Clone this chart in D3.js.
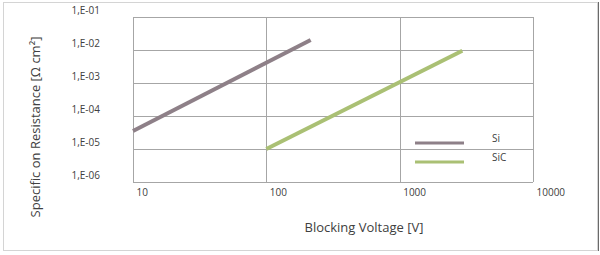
<!DOCTYPE html>
<html>
<head>
<meta charset="utf-8">
<script src="https://cdn.jsdelivr.net/npm/d3@7"></script>
<style>
  body { margin: 0; background: #fff; }
  svg text { font-family: "Open Sans", "DejaVu Sans", sans-serif; fill: #404040; }
</style>
</head>
<body>
<div id="chart"></div>
<script>
// series data (blocking voltage [V], specific on resistance [Ohm cm2])
var siVoltage = [10, 215];
var siResistance = [3.5e-5, 2.0e-2];
var sicVoltage = [100, 2950];
var sicResistance = [1.0e-5, 9.5e-3];

var seriesNames = ['Si', 'SiC'];
var seriesColors = ['#8e8088', '#aac074'];

var xTicks = [10, 100, 1000, 10000];
var xTickLabels = ['10', '100', '1000', '10000'];
var yTicks = [1e-6, 1e-5, 1e-4, 1e-3, 1e-2, 1e-1];
var yTickLabels = ['1,E-06', '1,E-05', '1,E-04', '1,E-03', '1,E-02', '1,E-01'];

var width = 600;
var height = 255;
var plot = { left: 133, right: 533, top: 17, bottom: 182 };

var svg = d3.select('#chart')
    .append('svg')
    .attr('width', width)
    .attr('height', height);

// outer frame
svg.append('rect')
    .attr('x', 3.5)
    .attr('y', 2.5)
    .attr('width', 594)
    .attr('height', 248)
    .attr('fill', '#fff')
    .attr('stroke', '#d4d4d4');
svg.append('line')
    .attr('x1', 598.5).attr('x2', 598.5)
    .attr('y1', 2).attr('y2', 251)
    .attr('stroke', '#6a6a6a');

var x = d3.scaleLog().domain([10, 10000]).range([plot.left, plot.right]);
var y = d3.scaleLog().domain([1e-6, 1e-1]).range([plot.bottom, plot.top]);

// gridlines
var grid = svg.append('g').attr('class', 'grid');
grid.selectAll('.hgrid')
    .data(yTicks)
    .enter()
    .append('line')
    .attr('x1', plot.left)
    .attr('x2', plot.right)
    .attr('y1', function(d) { return Math.round(y(d)) + 0.5; })
    .attr('y2', function(d) { return Math.round(y(d)) + 0.5; })
    .attr('stroke', '#a6a6a6');
grid.selectAll('.vgrid')
    .data(xTicks)
    .enter()
    .append('line')
    .attr('y1', plot.top)
    .attr('y2', plot.bottom)
    .attr('x1', function(d) { return Math.round(x(d)) + 0.5; })
    .attr('x2', function(d) { return Math.round(x(d)) + 0.5; })
    .attr('stroke', '#a6a6a6');

// axes (labels only)
var yAxis = svg.append('g')
    .attr('transform', 'translate(100,0)')
    .call(d3.axisLeft(y)
        .tickValues(yTicks)
        .tickSize(0)
        .tickPadding(0)
        .tickFormat(function(d, i) { return yTickLabels[i]; }));
yAxis.select('.domain').remove();
yAxis.selectAll('text')
    .attr('dy', '-0.35em')
    .style('font-size', '10px')
    .attr('fill', '#404040');

var xAxis = svg.append('g')
    .attr('transform', 'translate(0,' + plot.bottom + ')')
    .call(d3.axisBottom(x)
        .tickValues(xTicks)
        .tickSize(0)
        .tickPadding(7)
        .tickFormat(function(d, i) { return xTickLabels[i]; }));
xAxis.select('.domain').remove();
xAxis.selectAll('text')
    .attr('text-anchor', 'start')
    .attr('dx', 3)
    .style('font-size', '10px')
    .attr('fill', '#404040');

// series lines
var line = d3.line()
    .x(function(d) { return x(d[0]); })
    .y(function(d) { return y(d[1]); });

var series = [
    d3.zip(siVoltage, siResistance),
    d3.zip(sicVoltage, sicResistance)
];

svg.selectAll('.series')
    .data(series)
    .enter()
    .append('path')
    .attr('class', 'series')
    .attr('d', line)
    .attr('fill', 'none')
    .attr('stroke', function(d, i) { return seriesColors[i]; })
    .attr('stroke-width', 4);

// legend
var legend = svg.selectAll('.legend')
    .data(seriesNames)
    .enter()
    .append('g')
    .attr('class', 'legend')
    .attr('transform', function(d, i) { return 'translate(415,' + (143 + i * 19) + ')'; });
legend.append('line')
    .attr('x1', 0)
    .attr('x2', 49)
    .attr('stroke', function(d, i) { return seriesColors[i]; })
    .attr('stroke-width', 3);
legend.append('text')
    .attr('x', 77)
    .attr('dy', '-0.1em')
    .style('font-size', '10px')
    .text(function(d) { return d; });

// titles
svg.append('text')
    .attr('transform', 'translate(40,127) rotate(-90)')
    .attr('text-anchor', 'middle')
    .style('font-size', '13px')
    .attr('fill', '#333')
    .text('Specific on Resistance [\u03a9 cm\u00b2]');

svg.append('text')
    .attr('x', 364)
    .attr('y', 232)
    .attr('text-anchor', 'middle')
    .style('font-size', '13px')
    .attr('fill', '#333')
    .text('Blocking Voltage [V]');
</script>
</body>
</html>
